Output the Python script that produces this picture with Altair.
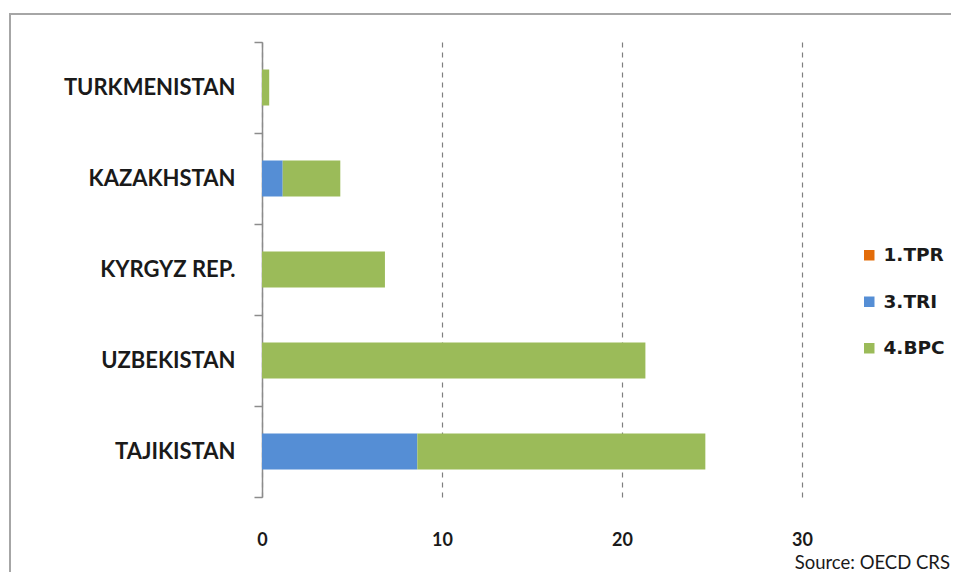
import altair as alt
import pandas as pd

countries = ["TURKMENISTAN", "KAZAKHSTAN", "KYRGYZ REP.", "UZBEKISTAN", "TAJIKISTAN"]
categories = ["1.TPR", "3.TRI", "4.BPC"]
colors = ["#E36C09", "#558ED5", "#9BBB59"]
tri_values = [0.0, 1.15, 0.0, 0.0, 8.63]
bpc_values = [0.4, 3.2, 6.83, 21.3, 16.0]
x_ticks = [0, 10, 20, 30]

rows = []
for c, t, b in zip(countries, tri_values, bpc_values):
    if t > 0:
        rows.append({"country": c, "cat": "3.TRI", "value": t, "ord": 1})
    if b > 0:
        rows.append({"country": c, "cat": "4.BPC", "value": b, "ord": 2})
df = pd.DataFrame(rows)

FONT = "Lato"
TXT = "#1a1a1a"

bars = alt.Chart(df).mark_bar(size=36).encode(
    y=alt.Y("country:N", sort=countries,
            scale=alt.Scale(paddingInner=0, paddingOuter=0),
            axis=alt.Axis(title=None, tickBand="extent", domainColor="#8C8C8C",
                          domainWidth=1.5, tickColor="#8C8C8C", tickWidth=1.5,
                          tickSize=8, labelPadding=19, labelFont=FONT,
                          labelFontSize=22, labelFontWeight="bold",
                          labelColor=TXT, grid=False)),
    x=alt.X("value:Q", stack="zero",
            scale=alt.Scale(domain=[0, 30], nice=False),
            axis=alt.Axis(title=None, values=x_ticks, domain=False, ticks=False,
                          labelPadding=34, labelFont=FONT, labelFontSize=18,
                          labelFontWeight="bold", labelColor=TXT,
                          grid=True, gridColor="#7f7f7f", gridDash=[5, 5],
                          gridWidth=1.2, labelFlush=False)),
    color=alt.Color("cat:N",
                    scale=alt.Scale(domain=categories, range=colors),
                    legend=alt.Legend(title=None, orient="none", legendX=598,
                                      legendY=204, symbolType="square",
                                      symbolSize=110, symbolStrokeWidth=0,
                                      rowPadding=27.5, labelFont="DejaVu Sans",
                                      labelFontSize=18.5, labelFontWeight="bold",
                                      labelColor=TXT, labelOffset=5)),
    order=alt.Order("ord:Q"),
)

one = pd.DataFrame({"k": [1]})
frame_top = alt.Chart(one).mark_rect(fill="#A6A6A6", strokeWidth=0).encode(
    x=alt.value(-253), x2=alt.value(720), y=alt.value(-29), y2=alt.value(-27)
)
frame_left = alt.Chart(one).mark_rect(fill="#A6A6A6", strokeWidth=0).encode(
    x=alt.value(-253), x2=alt.value(-251), y=alt.value(-29), y2=alt.value(540)
)

source = alt.Chart(pd.DataFrame({"t": ["Source: OECD CRS"]})).mark_text(
    align="right", baseline="middle", font=FONT, fontSize=18.5, color=TXT
).encode(text="t:N", x=alt.value(688), y=alt.value(521))

chart = alt.layer(frame_top, frame_left, bars, source).properties(
    width=540, height=455,
    autosize=alt.AutoSizeParams(type="none"),
    padding={"left": 254, "top": 34, "right": 149, "bottom": 75},
).configure_view(stroke=None)

chart.save("out.html", embed_options={"renderer": "svg", "actions": False})
